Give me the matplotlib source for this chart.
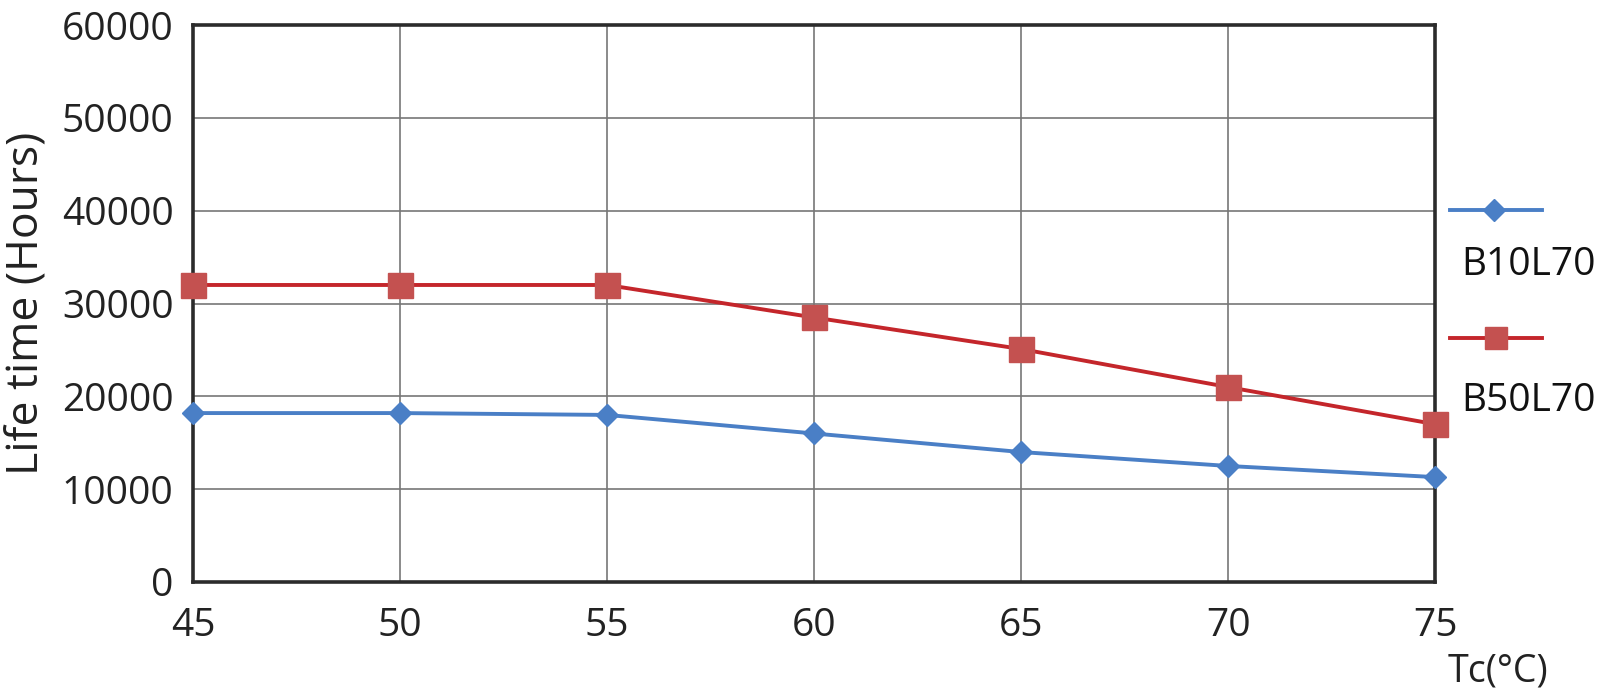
import matplotlib.pyplot as plt
from matplotlib.lines import Line2D

# Data
temps = [45, 50, 55, 60, 65, 70, 75]
b10l70 = [18200, 18200, 18000, 16000, 14000, 12500, 11300]
b50l70 = [32000, 32000, 32000, 28500, 25100, 21000, 17000]
labels = ['B10L70', 'B50L70']

blue = '#4a7fc6'
red_line = '#c4262b'
red_marker = '#c45150'

plt.rcParams['font.family'] = ['Open Sans', 'DejaVu Sans']

fig = plt.figure(figsize=(16, 6.97), dpi=100)
ax = fig.add_axes([0.1206, 0.165, 0.7764, 0.799])

ax.plot(temps, b10l70, color=blue, lw=2.8, marker='D', ms=11,
        mfc=blue, mec=blue, zorder=3, clip_on=False)
ax.plot(temps, b50l70, color=red_line, lw=2.8, marker='s', ms=18,
        mfc=red_marker, mec=red_marker, zorder=4, clip_on=False)

ax.set_xlim(45, 75)
ax.set_ylim(0, 60000)
ax.set_xticks(temps)
ax.set_yticks(range(0, 60001, 10000))
ax.grid(True, color='#777777', lw=1.2)
ax.set_axisbelow(True)
for s in ax.spines.values():
    s.set_linewidth(2.6)
    s.set_color('#2b2b2b')
ax.tick_params(length=0, labelsize=28, colors='#222222')
ax.tick_params(axis='x', pad=18)
ax.tick_params(axis='y', pad=14)
ax.set_ylabel('Life time (Hours)', fontsize=32, color='#222222', labelpad=9)

# legend: handle above label, to the right of the plot
fig.add_artist(Line2D([0.906, 0.964], [0.699, 0.699], color=blue, lw=2.8))
fig.add_artist(Line2D([0.934], [0.699], color=blue, marker='D', ms=11, lw=0))
fig.add_artist(Line2D([0.906, 0.964], [0.515, 0.515], color=red_line, lw=2.8))
fig.add_artist(Line2D([0.935], [0.515], color=red_marker, marker='s', ms=16, lw=0))
fig.text(0.913, 0.62, labels[0], fontsize=28, va='center', ha='left', color='#111111')
fig.text(0.913, 0.425, labels[1], fontsize=28, va='center', ha='left', color='#111111')

fig.text(0.905, 0.036, 'Tc(°C)', fontsize=27, ha='left', va='center', color='#222222')

fig.savefig('out.png', dpi=100, facecolor='white')
